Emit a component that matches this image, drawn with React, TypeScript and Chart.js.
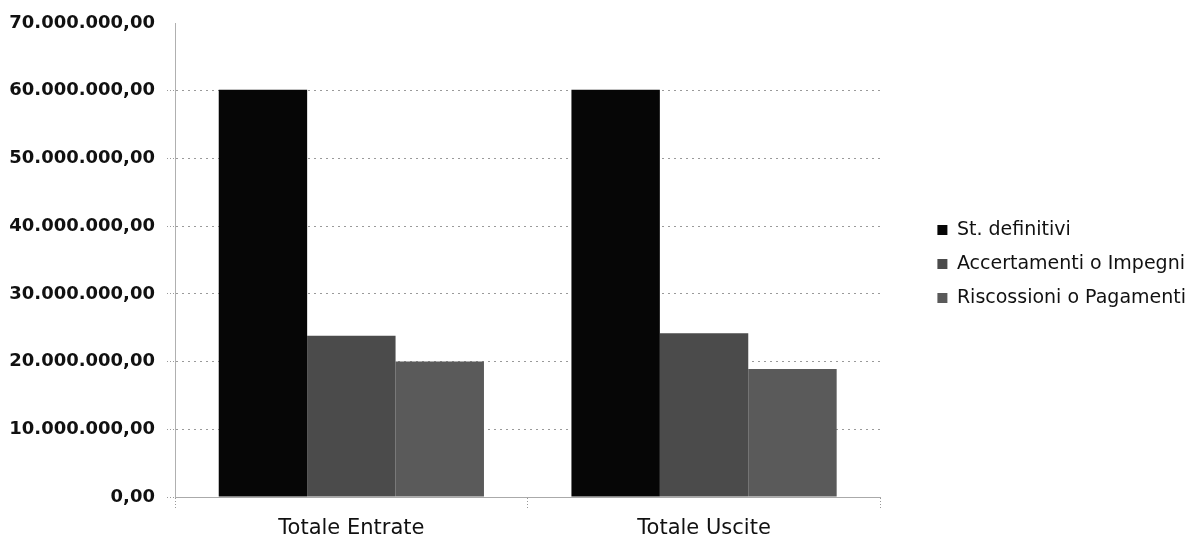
import { useEffect, useRef } from "react";
import { Chart, registerables } from "chart.js";

Chart.register(...registerables);

// Budget summary: planned vs. committed vs. collected/paid
const categories = ["Totale Entrate", "Totale Uscite"];
const seriesLabels = ["St. definitivi", "Accertamenti o Impegni", "Riscossioni o Pagamenti"];
const stDefinitivi = [60150000, 60150000];
const accertamentiImpegni = [23800000, 24200000];
const riscossioniPagamenti = [20000000, 18900000];
const seriesColors = ["#060606", "#4b4b4b", "#5a5a5a"];

const yMin = 0;
const yMax = 70000000;
const yStep = 10000000;

const gridColor = "#9a9a9a";

// Italian style number: 60.000.000,00
function formatIt(v: number): string {
  const [intPart, decPart] = Math.abs(v).toFixed(2).split(".");
  const grouped = intPart.replace(/\B(?=(\d{3})+(?!\d))/g, ".");
  return (v < 0 ? "-" : "") + grouped + "," + decPart;
}

// no line along the top edge of the plot
const yGridColor = (ctx: any) => (ctx.tick && ctx.tick.value === yMax ? "rgba(0,0,0,0)" : gridColor);

export default function App() {
  const canvasRef = useRef<HTMLCanvasElement | null>(null);

  useEffect(() => {
    if (!canvasRef.current) return;
    const values = [stDefinitivi, accertamentiImpegni, riscossioniPagamenti];
    const chart = new Chart(canvasRef.current, {
      type: "bar",
      data: {
        labels: categories,
        datasets: seriesLabels.map((label, i) => ({
          label,
          data: values[i],
          backgroundColor: seriesColors[i],
          borderWidth: 0,
          categoryPercentage: 0.752,
          barPercentage: 1,
        })),
      },
      options: {
        animation: false,
        responsive: true,
        maintainAspectRatio: false,
        layout: { padding: { top: 23, left: 0, right: 0, bottom: 0 } },
        plugins: {
          tooltip: { enabled: false },
          legend: {
            position: "right",
            fullSize: false,
            maxWidth: 320,
            title: { display: true, text: "", padding: 0, font: { size: 8, lineHeight: 1 } },
            labels: {
              boxWidth: 10,
              boxHeight: 10,
              padding: 15,
              color: "#111",
              font: { family: "DejaVu Sans", size: 19 },
            },
          },
        },
        scales: {
          x: {
            offset: true,
            grid: {
              display: true,
              drawOnChartArea: false,
              drawTicks: true,
              tickLength: 12,
              color: "#999",
              tickBorderDash: [1, 2],
            },
            border: { display: true, color: "#aaa" },
            ticks: {
              color: "#111",
              padding: 7,
              font: { family: "DejaVu Sans", size: 21 },
            },
            afterFit: (s: any) => {
              s.height = 46;
            },
          },
          y: {
            min: yMin,
            max: yMax,
            ticks: {
              stepSize: yStep,
              padding: 12,
              color: "#111",
              font: { family: "DejaVu Sans", size: 18, weight: "bold" },
              callback: (v: any) => formatIt(Number(v)),
            },
            grid: {
              color: yGridColor,
              tickColor: yGridColor,
              tickLength: 8,
              tickBorderDash: [1, 2],
            },
            border: { display: true, color: "#b0b0b0", dash: [2, 4] },
            afterFit: (s: any) => {
              s.width = 175;
            },
          },
          gap: {
            type: "linear",
            position: "right",
            display: true,
            grid: { display: false },
            ticks: { display: false },
            border: { display: false },
            afterFit: (s: any) => {
              s.width = 42;
            },
          },
        },
      },
    });
    return () => chart.destroy();
  }, []);

  return (
    <div style={{ position: "fixed", left: 0, top: 0, width: 1196, height: 543, background: "#fff" }}>
      <canvas ref={canvasRef} />
    </div>
  );
}
